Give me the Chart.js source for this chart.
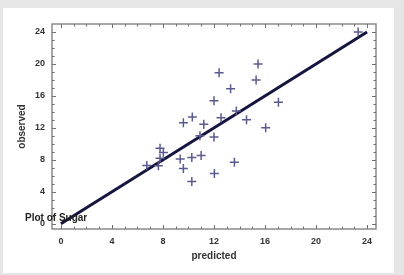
<!DOCTYPE html>
<html>
<head>
<meta charset="utf-8">
<script src="https://cdn.jsdelivr.net/npm/chart.js@4"></script>
<style>
  html, body { margin: 0; padding: 0; background: #e6e6e6; overflow: hidden; }
  .panel { position: absolute; left: 3px; top: 8px; width: 391px; height: 265px; background: #fff; }
  .wrap { position: absolute; left: 0; top: 0; width: 404px; height: 275px; }
</style>
</head>
<body>
<div class="panel"></div>
<div class="wrap"><canvas id="myChart" width="404" height="275"></canvas></div>
<script>
const predicted = [23.3, 15.45, 15.3, 12.4, 13.3, 12.0, 17.05, 13.75, 12.55, 10.3, 9.6, 11.2, 14.55, 16.05,
  12.0, 10.9, 7.77, 8.03, 7.77, 6.73, 7.64, 9.35, 10.26, 10.99, 9.6, 10.26, 12.03, 13.6];
const observed = [24.0, 20.0, 18.0, 18.9, 16.9, 15.4, 15.2, 14.1, 13.25, 13.35, 12.65, 12.45, 13.0, 12.0,
  10.85, 11.0, 9.45, 8.9, 8.2, 7.3, 7.25, 8.1, 8.3, 8.55, 6.9, 5.3, 6.3, 7.7];
const fitX = [0, 24];
const fitY = [0, 24];
const tickVals = [0, 4, 8, 12, 16, 20, 24];
const minorVals = [];
for (let v = 0; v <= 24; v++) minorVals.push(v);

const points = predicted.map((x, i) => ({x: x, y: observed[i]}));
const fitLine = fitX.map((x, i) => ({x: x, y: fitY[i]}));

// box + inward tick marks on all four sides
const frame = {
  id: 'frame',
  afterDraw(chart) {
    const c = chart.ctx, a = chart.chartArea;
    const xs = chart.scales.x, ys = chart.scales.y;
    c.save();
    c.strokeStyle = '#8a8a8a';
    c.lineWidth = 1.5;
    c.strokeRect(a.left, a.top, a.right - a.left, a.bottom - a.top);
    c.strokeStyle = '#707070';
    c.lineWidth = 1;
    c.beginPath();
    minorVals.forEach(v => {
      const len = v % 4 === 0 ? 4 : 2.5;
      const px = Math.round(xs.getPixelForValue(v)) + 0.5;
      c.moveTo(px, a.bottom); c.lineTo(px, a.bottom - len);
      c.moveTo(px, a.top); c.lineTo(px, a.top + len);
      const py = Math.round(ys.getPixelForValue(v)) + 0.5;
      c.moveTo(a.left, py); c.lineTo(a.left + len, py);
      c.moveTo(a.right, py); c.lineTo(a.right - len, py);
    });
    c.stroke();
    c.fillStyle = '#222';
    c.font = 'bold 10px "Liberation Sans", Arial, sans-serif';
    c.textBaseline = 'alphabetic';
    c.fillText('Plot of Sugar', 25, 221);
    c.restore();
  }
};

const tickFont = { size: 9, weight: 'bold', family: '"Liberation Sans", Arial' };
const titleFont = { size: 10, weight: 'bold', family: '"Liberation Sans", Arial' };

const ctx = document.getElementById('myChart');
new Chart(ctx, {
  type: 'scatter',
  data: {
    datasets: [{
      label: 'Sugar',
      data: points,
      pointStyle: 'cross',
      pointRadius: 4.5,
      pointHoverRadius: 4.5,
      borderColor: '#5a5a8e',
      borderWidth: 1.5,
      showLine: false
    }, {
      label: 'fit',
      data: fitLine,
      showLine: true,
      borderColor: '#15153f',
      borderWidth: 3,
      pointRadius: 0
    }]
  },
  options: {
    responsive: false,
    animation: false,
    devicePixelRatio: 1,
    layout: { padding: { left: 0, top: 24, right: 28, bottom: 0 } },
    plugins: { legend: { display: false }, tooltip: { enabled: false } },
    scales: {
      x: {
        type: 'linear',
        min: -0.7, max: 24.7,
        afterBuildTicks: s => { s.ticks = tickVals.map(v => ({value: v})); },
        afterFit: s => { s.height = 46; },
        grid: { display: false, drawTicks: false },
        border: { display: false },
        ticks: { color: '#333', padding: 7, font: tickFont },
        title: { display: true, text: 'predicted', color: '#333', padding: { top: 0, bottom: 13 }, font: titleFont }
      },
      y: {
        type: 'linear',
        min: -0.66, max: 25,
        afterBuildTicks: s => { s.ticks = tickVals.map(v => ({value: v})); },
        afterFit: s => { s.width = 52; },
        grid: { display: false, drawTicks: false },
        border: { display: false },
        ticks: { color: '#333', padding: 7, font: tickFont },
        title: { display: true, text: 'observed', color: '#333', padding: { top: 16, bottom: 0 }, font: titleFont }
      }
    }
  },
  plugins: [frame]
});
</script>
</body>
</html>
